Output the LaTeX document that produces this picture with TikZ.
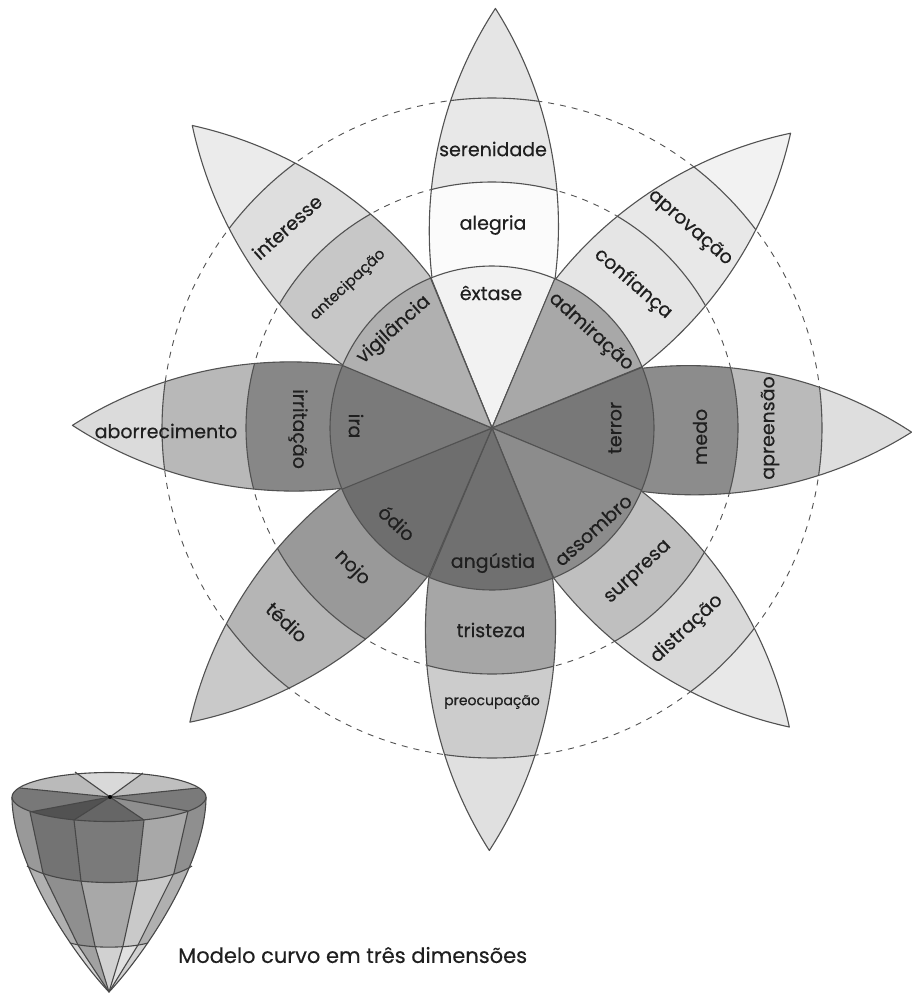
\documentclass[tikz,border=0pt]{standalone}
\usepackage{fontspec}
\setmainfont[FakeBold=0.35]{Poppins}
\usetikzlibrary{calc}
\colorlet{petalline}{black!68}
\colorlet{lbltext}{black!88}
\newcommand{\petalpath}{(67.5:162) arc[start angle=-7.05,end angle=32.72,radius=407] arc[start angle=147.28,end angle=187.05,radius=407] -- (0,0) -- cycle}
\tikzset{
    lbl/.style={anchor=center,inner sep=0pt,text=lbltext,font=\fontsize{19}{22}\selectfont},
    smalllbl/.style={lbl,font=\fontsize{14}{17}\selectfont},
    ring/.style={dashed,petalline,line width=0.9pt,dash pattern=on 6pt off 6pt},
    edge/.style={petalline,line width=1.1pt,line join=round},
    modeledge/.style={black!72,line width=1.1pt,line join=round}
}
\begin{document}
\begin{tikzpicture}[x=1pt,y=1pt]
    \useasboundingbox (0,0) rectangle (911,-993);
    %% dashed rings
    \draw[ring] (492,-428) circle[radius=246];
    \draw[ring] (492,-428) circle[radius=330];
    %% petals: angle/length/tip/outer/middle/inner
    \foreach \ang/\ps/\gtip/\gout/\gmid/\gin in {-0.4/1/10/9/1.5/5,-45.3/1/5/9/10/34,-90.5/1/13/27/45/53,-135.1/1.005/9/15/25/45,179.7/1.007/12/20/35/56,134.3/1.005/21/29/40/57,89.7/1/14/28/47/52,44.8/1.015/8/13/22/31} {
        \begin{scope}[shift={(492,-428)},rotate=\ang]
            \fill[black!\gtip,scale=\ps] \petalpath;
            \begin{scope}
                \clip[scale=\ps] \petalpath;
                \draw[edge,fill=black!\gout] (0,0) circle[radius=330];
                \draw[edge,fill=black!\gmid] (0,0) circle[radius=246];
            \end{scope}
            \draw[edge,scale=\ps] \petalpath;
            \draw[edge,fill=black!\gin] (0,0) -- (67.5:162) arc[start angle=67.5,end angle=112.5,radius=162] -- cycle;
        \end{scope}
    }
    %% labels
    \node[lbl] (serenidade) at (493,-149) {serenidade};
    \node[lbl] (alegria) at (493,-225) {alegria};
    \node[lbl] (extase) at (491,-293) {êxtase};
    \node[lbl,rotate=-41] (aprovacao) at (690,-228) {aprovação};
    \node[lbl,rotate=-41] (confianca) at (633,-284) {confiança};
    \node[lbl,rotate=-42] (admiracao) at (591,-332) {admiração};
    \node[lbl,rotate=90] (apreensao) at (770,-428) {apreensão};
    \node[lbl,rotate=90] (medo) at (700,-437) {medo};
    \node[lbl,rotate=90] (terror) at (615,-428) {terror};
    \node[lbl,rotate=43] (distracao) at (687,-629) {distração};
    \node[lbl,rotate=43] (surpresa) at (639,-573) {surpresa};
    \node[lbl,rotate=42] (assombro) at (593,-530) {assombro};
    \node[smalllbl] (preocupacao) at (492,-702) {preocupação};
    \node[lbl] (tristeza) at (491,-630) {tristeza};
    \node[lbl] (angustia) at (493,-563) {angústia};
    \node[lbl,rotate=-43] (tedio) at (287,-622) {tédio};
    \node[lbl,rotate=-45] (nojo) at (352,-568) {nojo};
    \node[lbl,rotate=-43] (odio) at (397,-523) {ódio};
    \node[lbl] (aborrecimento) at (166,-431) {aborrecimento};
    \node[lbl,rotate=-90] (irritacao) at (298,-429) {irritação};
    \node[lbl,rotate=-90] (ira) at (356,-426) {ira};
    \node[lbl,rotate=42] (interesse) at (287,-227) {interesse};
    \node[smalllbl,font=\fontsize{15}{18}\selectfont,rotate=43] (antecipacao) at (348,-285) {antecipação};
    \node[lbl,rotate=42] (vigilancia) at (394,-330) {vigilância};
    %% curved model
    \coordinate (hub) at (110,-797);
    \coordinate (tip) at (109,-992);
    \coordinate (Ma0) at (0,-780);
    \coordinate (Mb0) at (10,-867);
    \coordinate (Mc0) at (50,-943);
    \coordinate (Ma1) at (30,-812);
    \coordinate (Mb1) at (43,-873);
    \coordinate (Mc1) at (78,-945);
    \coordinate (Ma2) at (74,-820);
    \coordinate (Mb2) at (81,-881);
    \coordinate (Mc2) at (95,-946);
    \coordinate (Ma3) at (144,-820);
    \coordinate (Mb3) at (137,-882);
    \coordinate (Mc3) at (123,-946);
    \coordinate (Ma4) at (188,-811);
    \coordinate (Mb4) at (174,-873);
    \coordinate (Mc4) at (138,-945);
    \coordinate (Ma5) at (218,-780);
    \coordinate (Mb5) at (208,-867);
    \coordinate (Mc5) at (168,-943);
    \coordinate (R1) at (75,-772);
    \coordinate (R2) at (143,-773);
    \coordinate (R3) at (198,-788);
    \coordinate (R4) at (188,-811);
    \coordinate (R5) at (144,-820);
    \coordinate (R6) at (74,-820);
    \coordinate (R7) at (30,-812);
    \coordinate (R8) at (20,-788);
    \begin{scope}
        \clip (12,-797) .. controls (12,-860) and (68,-948) .. (tip) .. controls (150,-948) and (206,-860) .. (206,-797) -- cycle;
        \foreach \cl/\cr/\g in {0/1/18,1/2/37,2/3/18,3/4/12,4/5/18} {
            \fill[black!\g] (Ma\cl) -- (Mb\cl) -- (Mc\cl) -- (tip) -- (Mc\cr) -- (Mb\cr) -- (Ma\cr) -- cycle;
        }
        \begin{scope}
            \clip (0,-780) -- (0,-943) -- (70,-943) .. controls (90,-948.5) and (128,-948.5) .. (148,-943) -- (218,-943) -- (218,-780) -- cycle;
            \foreach \cl/\cr/\g in {0/1/31,1/2/44,2/3/34,3/4/21,4/5/31} {
                \fill[black!\g] (Ma\cl) -- (Mb\cl) -- (Mc\cl) -- (tip) -- (Mc\cr) -- (Mb\cr) -- (Ma\cr) -- cycle;
            }
        \end{scope}
        \begin{scope}
            \clip (0,-780) -- (0,-866) -- (27,-866) .. controls (60,-888) and (158,-888) .. (192,-866) -- (218,-866) -- (218,-780) -- cycle;
            \foreach \cl/\cr/\g in {0/1/40,1/2/55,2/3/52,3/4/34,4/5/44} {
                \fill[black!\g] (Ma\cl) -- (Mb\cl) -- (Mc\cl) -- (tip) -- (Mc\cr) -- (Mb\cr) -- (Ma\cr) -- cycle;
            }
        \end{scope}
    \end{scope}
    \draw[modeledge] (27,-866) .. controls (60,-888) and (158,-888) .. (192,-866);
    \draw[modeledge] (70,-943) .. controls (90,-948.5) and (128,-948.5) .. (148,-943);
    \foreach \m in {1,...,4} {
        \draw[modeledge] (Ma\m) -- (Mb\m) -- (Mc\m) -- (tip);
    }
    \draw[modeledge] (12,-797) .. controls (12,-860) and (68,-948) .. (tip) .. controls (150,-948) and (206,-860) .. (206,-797);
    %% top of the model
    \begin{scope}
        \clip (109,-797) ellipse[x radius=97,y radius=24.5];
        \foreach \ra/\rb/\g in {1/2/15,2/3/25,3/4/52,4/5/44,5/6/60,6/7/68,7/8/53,8/1/27} {
            \fill[black!\g] (hub) -- ($(hub)!2!(R\ra)$) -- ($(hub)!2!(R\rb)$) -- cycle;
        }
    \end{scope}
    \foreach \r in {1,...,8} {
        \draw[modeledge] (hub) -- (R\r);
    }
    \draw[modeledge] (109,-797) ellipse[x radius=97,y radius=24.5];
    \fill[black] (hub) circle[radius=2];
    \node[lbl,anchor=west,font=\fontsize{21}{24}\selectfont] (modelo) at (178,-955) {Modelo curvo em três dimensões};
\end{tikzpicture}
\end{document}
